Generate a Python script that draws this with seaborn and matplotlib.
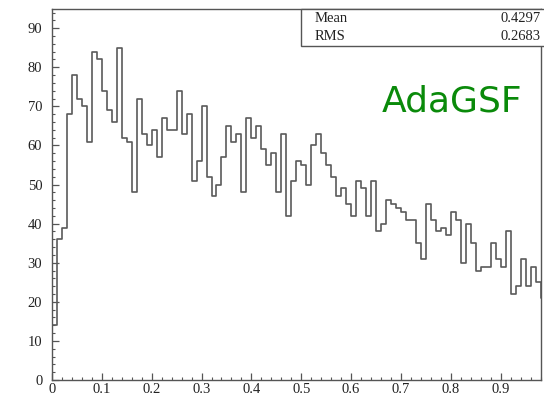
import numpy as np
import pandas as pd
import seaborn as sns
import matplotlib.pyplot as plt
from matplotlib.ticker import MultipleLocator, FuncFormatter
from matplotlib.patches import Rectangle

# Histogram contents, 0.01 wide bins starting at 0
bin_width = 0.01
counts = [14, 36, 39, 68, 78, 72, 70, 61, 84, 82,
          74, 69, 66, 85, 62, 61, 48, 72, 63, 60,
          64, 57, 67, 64, 64, 74, 63, 68, 51, 56,
          70, 52, 47, 50, 57, 65, 61, 63, 48, 67,
          62, 65, 59, 55, 58, 48, 63, 42, 51, 56,
          55, 50, 60, 63, 58, 55, 52, 47, 49, 45,
          42, 51, 49, 42, 51, 38, 40, 46, 45, 44,
          43, 41, 41, 35, 31, 45, 41, 38, 39, 37,
          43, 41, 30, 40, 35, 28, 29, 29, 35, 31,
          29, 38, 22, 24, 31, 24, 29, 25, 21]

stat_names = ["Mean", "RMS"]
stat_values = ["0.4297", "0.2683"]
tag = "AdaGSF"

centers = np.arange(len(counts)) * bin_width + bin_width / 2
df = pd.DataFrame({"x": centers, "n": counts})

sns.set_style("ticks")
plt.rcParams["font.family"] = ["Liberation Serif", "DejaVu Serif"]

fig = plt.figure(figsize=(5.44, 3.98), dpi=100)
ax = fig.add_axes([52 / 544, 18 / 398, (541 - 52) / 544, (389 - 18) / 398])

sns.histplot(data=df, x="x", weights="n", binwidth=bin_width,
             binrange=(0, len(counts) * bin_width), element="step",
             fill=False, color="#5a5a5a", linewidth=1.2, ax=ax)

ax.set_xlim(0, 0.981)
ax.set_ylim(0, 94.9)
ax.set_xlabel("")
ax.set_ylabel("")

# ROOT-like axes: inward ticks, boxed frame
ax.xaxis.set_major_locator(MultipleLocator(0.1))
ax.xaxis.set_minor_locator(MultipleLocator(0.02))
ax.yaxis.set_major_locator(MultipleLocator(10))
ax.yaxis.set_minor_locator(MultipleLocator(2))
ax.xaxis.set_major_formatter(FuncFormatter(lambda v, p: "0" if abs(v) < 1e-9 else f"{v:.1f}"))
ax.yaxis.set_major_formatter(FuncFormatter(lambda v, p: f"{v:.0f}"))
ax.tick_params(which="major", direction="in", length=5, width=0.9, color="#555555",
               labelsize=10.5, labelcolor="#222222")
ax.tick_params(which="minor", direction="in", length=2.5, width=0.8, color="#555555")
ax.tick_params(axis="x", pad=2.5)
ax.tick_params(axis="y", pad=7)
for s in ax.spines.values():
    s.set_visible(True)
    s.set_color("#555555")
    s.set_linewidth(1.0)

# Stats box
box = Rectangle((301 / 544, (398 - 46) / 398), 0.5, (46 - 9) / 398,
                transform=fig.transFigure, facecolor="white",
                edgecolor="#555555", linewidth=1.0, clip_on=False, zorder=5)
fig.patches.append(box)
for i, (name, val) in enumerate(zip(stat_names, stat_values)):
    yy = (398 - 18 - i * 19) / 398
    fig.text(315 / 544, yy, name, fontsize=10.5, color="#222222", va="center", zorder=6)
    fig.text(541 / 544, yy, val, fontsize=10.5, color="#222222", va="center", ha="right", zorder=6)

fig.text(452 / 544, (398 - 101) / 398, tag, fontsize=26, color="#0a8a0a",
         family="DejaVu Sans", ha="center", va="center")

fig.savefig("out.png", dpi=100)
